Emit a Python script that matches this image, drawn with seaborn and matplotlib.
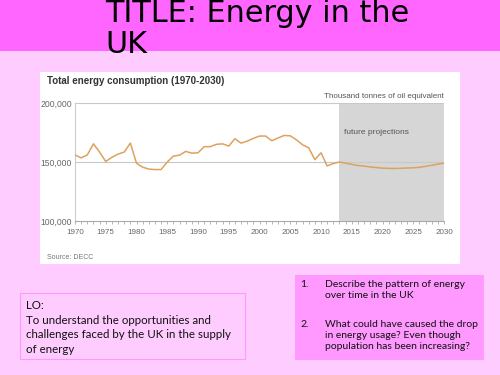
import matplotlib
matplotlib.use("Agg")
import matplotlib.pyplot as plt
import seaborn as sns
import pandas as pd
from matplotlib.patches import Rectangle

# data (thousand tonnes of oil equivalent)
years = list(range(1970, 2031))
consumption = [
    156000, 153500, 156000, 165400, 158400, 150400, 154000, 156700, 158400, 166000,
    149000, 145600, 144000, 143600, 143600, 150000, 155000, 155800, 159000, 157500,
    157800, 163000, 163000, 165000, 165400, 163500, 169700, 166000, 167700, 170000,
    172000, 172000, 168000, 170300, 172500, 172200, 168800, 164600, 162000, 152000,
    157800, 146700, 148700, 150000, 149000, 148000, 147000, 146500, 145800, 145300,
    144800, 144600, 144500, 144700, 144900, 145100, 145500, 146300, 147200, 148200,
    149000,
]
projection_start = 2013

lo_text = ("LO:\nTo understand the opportunities and\n"
           "challenges faced by the UK in the supply\nof energy")
questions = [
    ("1.", "Describe the pattern of energy\nover time in the UK"),
    ("2.", "What could have caused the drop\nin energy usage? Even though\npopulation has been increasing?"),
]

df = pd.DataFrame({"Year": years, "Consumption": consumption})

W, H = 500, 375
fig = plt.figure(figsize=(5, 3.75), dpi=100)
fig.patch.set_facecolor("#ffccff")


def px_rect(x0, y0, x1, y1, **kw):
    # rectangle given in pixel coords from the top-left corner
    fig.patches.append(Rectangle((x0 / W, 1 - y1 / H), (x1 - x0) / W, (y1 - y0) / H,
                                 transform=fig.transFigure, figure=fig, zorder=-1, **kw))


# slide decoration
px_rect(0, 0, W, 51, facecolor="#ff66ff", edgecolor="none")
fig.text(105 / W, 1 - 22.5 / H, "TITLE: Energy in the", fontsize=21.8, va="baseline")
fig.text(105 / W, 1 - 53 / H, "UK", fontsize=21.8, va="baseline")

# chart card
px_rect(40, 72, 460, 264, facecolor="white", edgecolor="none")
chart_font = "Liberation Sans"
fig.text(47 / W, 1 - 84 / H, "Total energy consumption (1970-2030)", fontsize=7,
         fontweight="bold", color="#333333", family=chart_font, va="baseline")
fig.text(444 / W, 1 - 98 / H, "Thousand tonnes of oil equivalent", fontsize=5.8,
         color="#555555", family=chart_font, ha="right", va="baseline")
fig.text(47 / W, 1 - 259 / H, "Source: DECC", fontsize=5, color="#777777",
         family=chart_font, va="baseline")

ax = fig.add_axes([75 / W, 1 - 221 / H, (444 - 75) / W, (221 - 103) / H])
ax.set_zorder(2)
ax.set_facecolor("white")
ax.axvspan(projection_start, 2030, color="#d6d6d6", lw=0, zorder=0)
for yv in (150000, 200000):
    ax.axhline(yv, color="#c8c8c8", lw=0.8, zorder=1)
sns.lineplot(data=df, x="Year", y="Consumption", ax=ax, color="#dda25e", lw=1.1, zorder=3)
ax.text(2013.7, 174600, "future projections", fontsize=6, color="#555555",
        family=chart_font, va="center")

ax.set_xlim(1970, 2030)
ax.set_ylim(100000, 200000)
ax.set_xticks(range(1970, 2031, 5))
ax.set_xticks(years, minor=True)
ax.set_yticks([100000, 150000, 200000])
ax.set_yticklabels(["100,000", "150,000", "200,000"])
ax.set_xlabel("")
ax.set_ylabel("")
for lab in ax.get_xticklabels() + ax.get_yticklabels():
    lab.set_family(chart_font)
ax.tick_params(axis="x", which="both", length=2.5, width=0.6, color="#aaaaaa",
               labelsize=5.8, labelcolor="#666666", pad=3)
ax.tick_params(axis="y", length=0, labelsize=6.2, labelcolor="#666666", pad=2)
for s in ("top", "right"):
    ax.spines[s].set_visible(False)
ax.spines["left"].set_color("#cccccc")
ax.spines["left"].set_linewidth(0.8)
ax.spines["bottom"].set_color("#aaaaaa")
ax.spines["bottom"].set_linewidth(0.8)

# bottom boxes
body_font = ["Lato", "DejaVu Sans"]
px_rect(20, 293, 245, 359, facecolor="none", edgecolor="#ff99ff", lw=0.8)
fig.text(26 / W, 1 - 300 / H, lo_text, fontsize=8.3, family=body_font,
         va="top", linespacing=1.4, color="#111111")

px_rect(295, 275, 484, 360, facecolor="#ff99ff", edgecolor="none")
y_top = 280
for num, txt in questions:
    fig.text(300 / W, 1 - y_top / H, num, fontsize=7.5, family=body_font,
             va="top", color="#111111")
    fig.text(325 / W, 1 - y_top / H, txt, fontsize=7.5, family=body_font,
             va="top", linespacing=1.3, color="#111111")
    y_top += 40

fig.savefig("out.png", dpi=100, facecolor=fig.get_facecolor())
